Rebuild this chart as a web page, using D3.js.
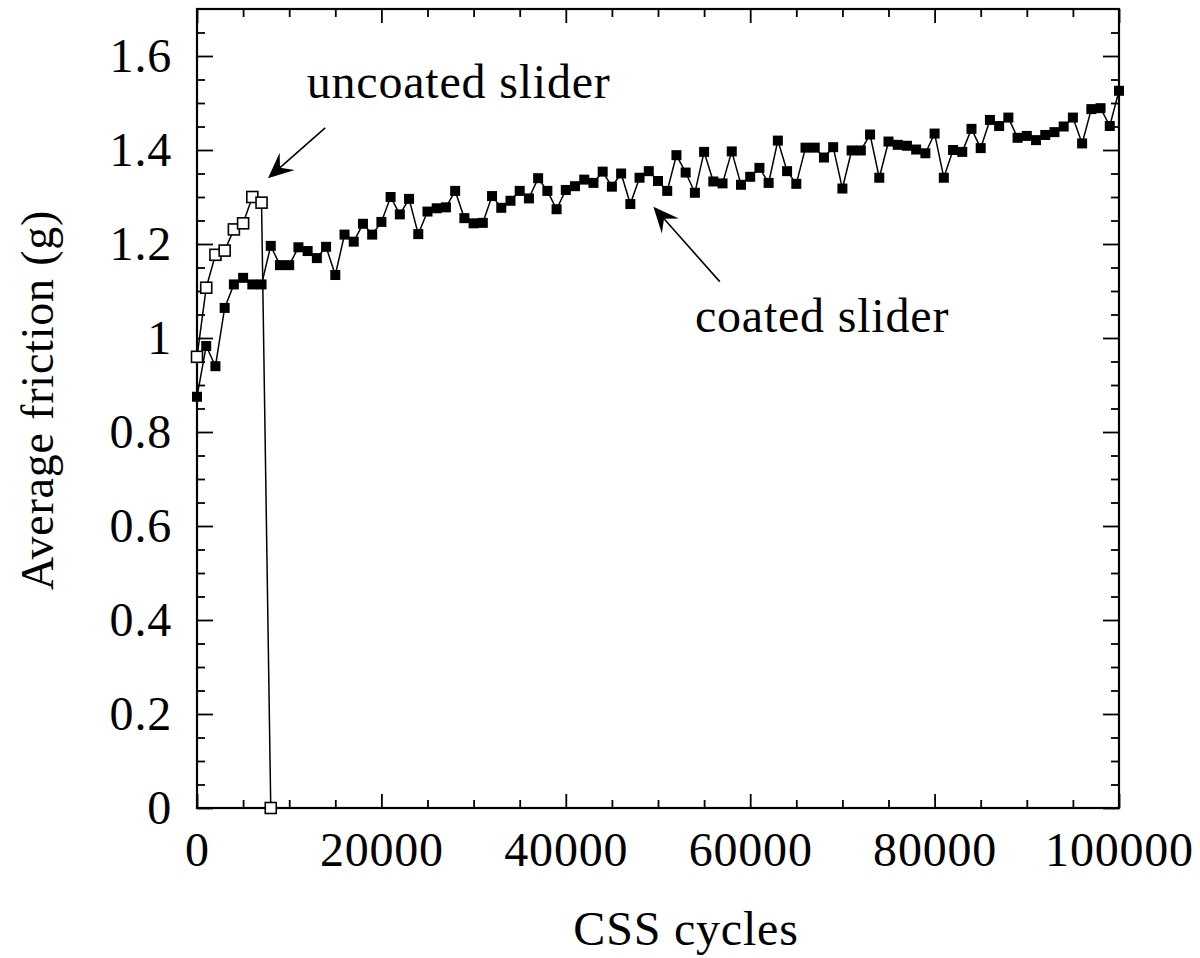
<!DOCTYPE html>
<html>
<head>
<meta charset="utf-8">
<script src="https://cdn.jsdelivr.net/npm/d3@7"></script>
<style>
  body { margin: 0; background: #fff; }
  svg text { font-family: "Liberation Serif", "Times New Roman", serif; fill: #000; letter-spacing: 0.8px; }
</style>
</head>
<body>
<svg id="chart" width="1200" height="958"></svg>
<script>
// cycles at which friction was sampled
const coatedCycles = [
    0, 1000, 2000, 3000, 4000, 5000, 6000, 7000, 8000, 9000,
    10000, 11000, 12000, 13000, 14000, 15000, 16000, 17000, 18000, 19000,
    20000, 21000, 22000, 23000, 24000, 25000, 26000, 27000, 28000, 29000,
    30000, 31000, 32000, 33000, 34000, 35000, 36000, 37000, 38000, 39000,
    40000, 41000, 42000, 43000, 44000, 45000, 46000, 47000, 48000, 49000,
    50000, 51000, 52000, 53000, 54000, 55000, 56000, 57000, 58000, 59000,
    60000, 61000, 62000, 63000, 64000, 65000, 66000, 67000, 68000, 69000,
    70000, 71000, 72000, 73000, 74000, 75000, 76000, 77000, 78000, 79000,
    80000, 81000, 82000, 83000, 84000, 85000, 86000, 87000, 88000, 89000,
    90000, 91000, 92000, 93000, 94000, 95000, 96000, 97000, 98000, 99000,
    100000
];
const coatedFriction = [
    0.875, 0.983, 0.940, 1.064, 1.114, 1.128, 1.114, 1.114, 1.196, 1.155,
    1.155, 1.193, 1.185, 1.170, 1.194, 1.134, 1.220, 1.205, 1.243, 1.220,
    1.247, 1.300, 1.263, 1.296, 1.221, 1.269, 1.276, 1.278, 1.313, 1.255,
    1.244, 1.245, 1.302, 1.277, 1.292, 1.313, 1.297, 1.340, 1.313, 1.274,
    1.315, 1.323, 1.337, 1.330, 1.354, 1.322, 1.350, 1.285, 1.341, 1.355,
    1.334, 1.313, 1.389, 1.352, 1.309, 1.396, 1.333, 1.329, 1.397, 1.326,
    1.343, 1.362, 1.330, 1.420, 1.355, 1.328, 1.405, 1.405, 1.384, 1.406,
    1.318, 1.399, 1.399, 1.433, 1.341, 1.418, 1.411, 1.409, 1.401, 1.393,
    1.435, 1.341, 1.400, 1.396, 1.445, 1.404, 1.464, 1.451, 1.469, 1.426,
    1.430, 1.421, 1.432, 1.438, 1.450, 1.469, 1.414, 1.487, 1.489, 1.451,
    1.526
];
const uncoatedCycles = [0, 1000, 2000, 3000, 4000, 5000, 6000, 7000, 8000];
const uncoatedFriction = [0.96, 1.107, 1.177, 1.186, 1.231, 1.244, 1.300, 1.288, 0];

const xMajor = [0, 20000, 40000, 60000, 80000, 100000];
const xMinor = [5000, 10000, 15000, 25000, 30000, 35000, 45000, 50000, 55000,
                65000, 70000, 75000, 85000, 90000, 95000];
const yMajor = [0, 0.2, 0.4, 0.6, 0.8, 1, 1.2, 1.4, 1.6];
const yMinor = [0.05, 0.1, 0.15, 0.25, 0.3, 0.35, 0.45, 0.5, 0.55, 0.65, 0.7, 0.75,
                0.85, 0.9, 0.95, 1.05, 1.1, 1.15, 1.25, 1.3, 1.35, 1.45, 1.5, 1.55, 1.65];

// annotations, in data units: [label, text x, text y, arrow from x/y, arrow to x/y]
const notes = [
    ["uncoated slider", 11900, 1.51, 13900, 1.447, 7700, 1.34],
    ["coated slider", 54000, 1.013, 56700, 1.12, 49500, 1.279]
];

const fontSize = 48;
const plotLeft = 197, plotRight = 1119, plotTop = 9, plotBottom = 808;

const svg = d3.select("#chart");

const x = d3.scaleLinear().domain([0, 100000]).range([plotLeft, plotRight]);
const y = d3.scaleLinear().domain([0, 1.7]).range([plotBottom, plotTop]);

/**
 * Style an axis group: serif text, black strokes.
 */
function styleAxis(g) {
    g.select(".domain").remove();
    g.selectAll(".tick line").attr("stroke", "#000").attr("stroke-width", 1.8);
    g.selectAll("text")
        .attr("font-family", "Liberation Serif, serif")
        .attr("font-size", fontSize)
        .attr("fill", "#000");
}

// major + minor ticks, pointing inward on all four sides
svg.append("g").attr("transform", `translate(0,${plotBottom})`)
    .call(d3.axisBottom(x).tickValues(xMajor).tickSize(-14).tickPadding(24).tickFormat(d3.format("d")))
    .call(styleAxis);
svg.append("g").attr("transform", `translate(0,${plotBottom})`)
    .call(d3.axisBottom(x).tickValues(xMinor).tickSize(-8).tickFormat(""))
    .call(styleAxis);
svg.append("g").attr("transform", `translate(0,${plotTop})`)
    .call(d3.axisTop(x).tickValues(xMajor).tickSize(-14).tickFormat(""))
    .call(styleAxis);
svg.append("g").attr("transform", `translate(0,${plotTop})`)
    .call(d3.axisTop(x).tickValues(xMinor).tickSize(-8).tickFormat(""))
    .call(styleAxis);

svg.append("g").attr("transform", `translate(${plotLeft},0)`)
    .call(d3.axisLeft(y).tickValues(yMajor).tickSize(-16).tickPadding(25).tickFormat(d => d3.format("")(d)))
    .call(styleAxis);
svg.append("g").attr("transform", `translate(${plotLeft},0)`)
    .call(d3.axisLeft(y).tickValues(yMinor).tickSize(-8).tickFormat(""))
    .call(styleAxis);
svg.append("g").attr("transform", `translate(${plotRight},0)`)
    .call(d3.axisRight(y).tickValues(yMajor).tickSize(-16).tickFormat(""))
    .call(styleAxis);
svg.append("g").attr("transform", `translate(${plotRight},0)`)
    .call(d3.axisRight(y).tickValues(yMinor).tickSize(-8).tickFormat(""))
    .call(styleAxis);

// plot frame
svg.append("rect")
    .attr("x", plotLeft).attr("y", plotTop)
    .attr("width", plotRight - plotLeft).attr("height", plotBottom - plotTop)
    .attr("fill", "none").attr("stroke", "#000").attr("stroke-width", 2.2);

// axis titles
svg.append("text")
    .attr("x", 686).attr("y", 945)
    .attr("text-anchor", "middle")
    .attr("font-size", fontSize)
    .text("CSS cycles");
svg.append("text")
    .attr("transform", "translate(53,400) rotate(-90)")
    .attr("text-anchor", "middle")
    .attr("font-size", 46)
    .attr("letter-spacing", 0)
    .text("Average friction (g)");

const line = d3.line().x(d => x(d[0])).y(d => y(d[1]));

// uncoated slider: open squares
const uncoated = d3.zip(uncoatedCycles, uncoatedFriction);
svg.append("path")
    .datum(uncoated)
    .attr("d", line)
    .attr("fill", "none").attr("stroke", "#000").attr("stroke-width", 1.5);
svg.selectAll(".openSq")
    .data(uncoated)
    .enter().append("rect")
    .classed("openSq", true)
    .attr("x", d => x(d[0]) - 5.5).attr("y", d => y(d[1]) - 5.5)
    .attr("width", 11).attr("height", 11)
    .attr("fill", "#fff").attr("stroke", "#000").attr("stroke-width", 1.6);

// coated slider: filled squares
const coated = d3.zip(coatedCycles, coatedFriction);
svg.append("path")
    .datum(coated)
    .attr("d", line)
    .attr("fill", "none").attr("stroke", "#000").attr("stroke-width", 1.5);
svg.selectAll(".fillSq")
    .data(coated)
    .enter().append("rect")
    .classed("fillSq", true)
    .attr("x", d => x(d[0]) - 5).attr("y", d => y(d[1]) - 5)
    .attr("width", 10).attr("height", 10)
    .attr("fill", "#000");

// annotation labels with barbed arrows
notes.forEach(([label, tx, ty, x1, y1, x2, y2]) => {
    svg.append("text")
        .attr("x", x(tx)).attr("y", y(ty))
        .attr("font-size", fontSize)
        .text(label);

    const ax = x(x1), ay = y(y1), bx = x(x2), by = y(y2);
    const ang = Math.atan2(by - ay, bx - ax);
    const len = 28, wing = 0.42, notch = 16;
    svg.append("line")
        .attr("x1", ax).attr("y1", ay)
        .attr("x2", bx - notch * Math.cos(ang)).attr("y2", by - notch * Math.sin(ang))
        .attr("stroke", "#000").attr("stroke-width", 1.6);
    const p = [
        [bx, by],
        [bx - len * Math.cos(ang - wing), by - len * Math.sin(ang - wing)],
        [bx - notch * Math.cos(ang), by - notch * Math.sin(ang)],
        [bx - len * Math.cos(ang + wing), by - len * Math.sin(ang + wing)]
    ];
    svg.append("path")
        .attr("d", "M" + p.map(q => q.join(",")).join("L") + "Z")
        .attr("fill", "#000");
});
</script>
</body>
</html>
